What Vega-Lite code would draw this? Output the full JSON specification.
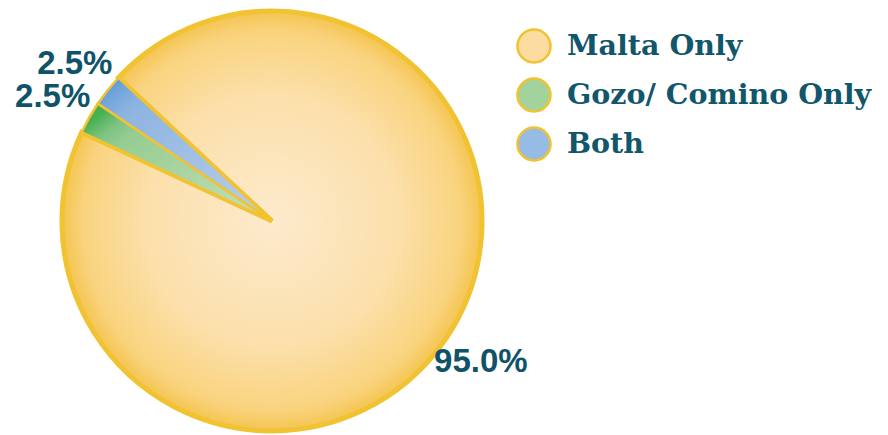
{
  "$schema": "https://vega.github.io/schema/vega-lite/v6.json",
  "width": 544,
  "height": 442,
  "autosize": {"type": "none"},
  "padding": {"left": 0, "top": 0, "right": 344, "bottom": 0},
  "background": "white",
  "data": {
    "values": [
      {"category": "Malta Only", "value": 95.0, "order": 1, "label": "95.0%"},
      {"category": "Gozo/ Comino Only", "value": 2.5, "order": 2, "label": "2.5%"},
      {"category": "Both", "value": 2.5, "order": 3, "label": "2.5%"}
    ]
  },
  "encoding": {
    "theta": {"field": "value", "type": "quantitative", "stack": true,
      "scale": {"domain": [0, 100], "range": [-0.82, 5.463]}},
    "order": {"field": "order", "type": "quantitative"}
  },
  "layer": [
    {
      "mark": {"type": "arc", "outerRadius": 210},
      "encoding": {
        "color": {"field": "category", "type": "nominal",
          "scale": {"domain": ["Malta Only", "Gozo/ Comino Only", "Both"], "range": ["#fcdca0", "#a3d39c", "#96bbe5"]},
          "sort": ["Malta Only", "Gozo/ Comino Only", "Both"],
          "legend": {
            "title": null, "orient": "none", "legendX": 516, "legendY": 28, "padding": 0,
            "symbolType": "circle", "symbolSize": 1089, "symbolStrokeColor": "#f1c232", "symbolStrokeWidth": 2.5,
            "symbolOpacity": 1,
            "labelFont": "DejaVu Serif", "labelFontSize": 28.5, "labelFontWeight": "bold", "labelColor": "#11566b", "labelOffset": 15,
            "rowPadding": 5, "labelLimit": 400
          }
        }
      }
    },
    {
      "mark": {"type": "arc", "outerRadius": 210, "stroke": "#f1c232", "strokeWidth": 5,
        "fill": {"gradient": "radial", "x1": 0.5, "y1": 0.5, "r1": 0, "x2": 0.5, "y2": 0.5, "r2": 0.5,
          "stops": [{"offset": 0, "color": "#fdeacd"}, {"offset": 0.6, "color": "#fce0ab"}, {"offset": 0.9, "color": "#f9d37e"}, {"offset": 1, "color": "#f5c550"}]}},
      "encoding": {
        "opacity": {"condition": {"test": "datum.category === 'Malta Only'", "value": 1}, "value": 0}
      }
    },
    {
      "mark": {"type": "arc", "outerRadius": 210, "stroke": "#f1c232", "strokeWidth": 2.5,
        "fill": {"gradient": "linear", "x1": 0, "y1": 0.2, "x2": 1, "y2": 1,
          "stops": [{"offset": 0, "color": "#45b04d"}, {"offset": 0.1, "color": "#7ec382"}, {"offset": 0.2, "color": "#96cd93"}, {"offset": 1, "color": "#c8e0b8"}]}},
      "encoding": {
        "opacity": {"condition": {"test": "datum.category === 'Gozo/ Comino Only'", "value": 1}, "value": 0}
      }
    },
    {
      "mark": {"type": "arc", "outerRadius": 210, "stroke": "#f1c232", "strokeWidth": 2.5,
        "fill": {"gradient": "linear", "x1": 0, "y1": 0, "x2": 1, "y2": 1,
          "stops": [{"offset": 0, "color": "#3b8fd6"}, {"offset": 0.1, "color": "#70a4dc"}, {"offset": 0.2, "color": "#8db4e0"}, {"offset": 1, "color": "#bccfea"}]}},
      "encoding": {
        "opacity": {"condition": {"test": "datum.category === 'Both'", "value": 1}, "value": 0}
      }
    },
    {
      "mark": {"type": "text", "radius": 252, "font": "Liberation Sans", "fontWeight": "bold", "fontSize": 33,
        "fill": "#0f5369", "align": "center", "baseline": "middle"},
      "encoding": {
        "text": {"field": "label", "type": "nominal"}
      }
    }
  ]
}
